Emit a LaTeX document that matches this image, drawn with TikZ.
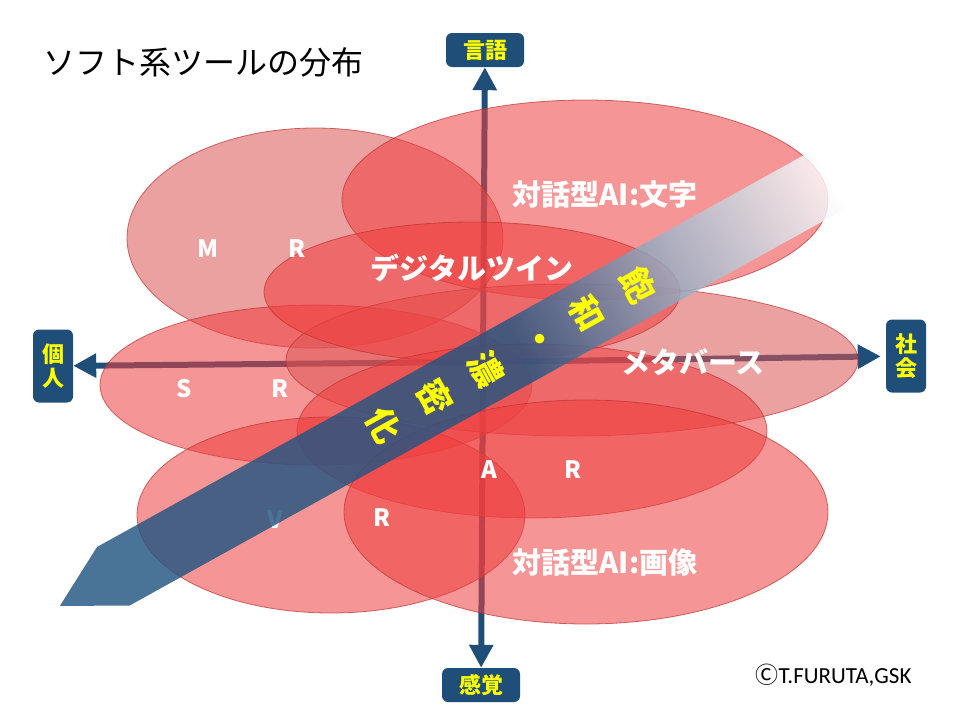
\documentclass[tikz,border=0pt]{standalone}
\usepackage{fontspec}
\setmainfont{Noto Sans CJK JP}
\newfontfamily\calibfont{Carlito}
\usepackage{tikz}
\usetikzlibrary{arrows.meta}
\definecolor{axisnavy}{RGB}{31,78,121}
\definecolor{cloudred}{RGB}{240,62,62}
\definecolor{cloudmute}{RGB}{222,84,84}
\definecolor{cloudedge}{RGB}{190,50,50}
\definecolor{bandblue}{RGB}{35,85,130}
\definecolor{tagyellow}{RGB}{255,255,0}
\colorlet{bandmid}{bandblue!45!white}
\colorlet{bandend}{white}
\pgfdeclarehorizontalshading{bandfade}{100bp}{color(0bp)=(bandblue); color(55bp)=(bandblue);
  color(65bp)=(bandmid); color(75bp)=(bandend); color(100bp)=(bandend)}

\begin{document}
\begin{tikzpicture}[x=1pt, y=-1pt,
    cloud/.style={fill=cloudred, fill opacity=0.55, draw=cloudedge, draw opacity=0.7, line width=0.8pt},
    mutecloud/.style={cloud, fill=cloudmute},
    lbl/.style={text=white, font=\bfseries\fontsize{29}{32}\selectfont},
    letter/.style={text=white, font=\bfseries\fontsize{24}{28}\selectfont},
    axis/.style={draw=axisnavy, line width=6pt, -{Triangle[width=23pt,length=23pt]}},
    htag/.style={fill=axisnavy, rounded corners=6pt, text=tagyellow, inner sep=0pt,
                 font=\bfseries\fontsize{22}{24}\selectfont, minimum width=78pt, minimum height=34pt},
    vtag/.style={htag, minimum width=40pt, minimum height=73pt, align=center},
    bandchar/.style={text=tagyellow, font=\bfseries\fontsize{34}{34}\selectfont, rotate=-90}]

\useasboundingbox (0,0) rectangle (960,720);
\fill[white] (0,0) rectangle (960,720);

%% Title
\node[anchor=west, font=\fontsize{32}{36}\selectfont] (title) at (40,62) {ソフト系ツールの分布};

%% Axis tags: top, bottom, left, right
\node[htag] (lang)  at (485,50)  {言語};
\node[htag] (sense) at (481,685) {感覚};
\node[vtag] (indiv) at (53,366)  {個\\人};
\node[vtag] (soc)   at (906,356) {社\\会};

%% Axes
\coordinate (O) at (483,362);
\draw[axis] (O) -- (lang);
\draw[axis] (O) -- (sense);
\draw[axis] (O) -- (indiv);
\draw[axis, shorten >=5pt] (O) -- (soc);

%% ── Tool areas ───────────────────────────────────────────────────────
\draw[mutecloud] (315,238) ellipse [x radius=188, y radius=110];   % MR
\draw[cloud]     (585,200) ellipse [x radius=243, y radius=100];   % AI text
\draw[cloud]     (316,385) ellipse [x radius=216, y radius=80];    % SR
\draw[mutecloud] (572,360) ellipse [x radius=286, y radius=76];    % metaverse
\draw[cloud]     (472,292) ellipse [x radius=208, y radius=70];    % digital twin
\draw[cloud]     (532,431) ellipse [x radius=235, y radius=87];    % AR
\draw[cloud]     (331,515) ellipse [x radius=194, y radius=98];    % VR
\draw[cloud]     (586,512) ellipse [x radius=242, y radius=112];   % AI image

%% Labels
\node[letter] (mr1) at (208,249) {M};
\node[letter] (mr2) at (297,249) {R};
\node[lbl] (aitext) at (605,195) {対話型AI:文字};
\node[lbl] (twin)   at (472,268) {デジタルツイン};
\node[letter] (sr1) at (184,389) {S};
\node[letter] (sr2) at (280,389) {R};
\node[lbl] (meta)   at (693,362) {メタバース};
\node[letter] (ar1) at (489,470) {A};
\node[letter] (ar2) at (573,470) {R};
\node[letter] (vr1) at (275,520) {V};
\node[letter] (vr2) at (382,518) {R};
\node[lbl] (aiimg)  at (605,562) {対話型AI:画像};

%% ── Diagonal band ────────────────────────────────────────────────────
\begin{scope}[transform canvas={shift={(97,547)}, rotate=29}]
  \shade[shading=bandfade, fill opacity=0.82]
      (0,0) -- (820,0) -- (820,67) -- (0,67) -- (-61,33.5) -- cycle;
  \node[bandchar] (b1) at (600,33) {飽};
  \node[bandchar] (b2) at (542,33) {和};
  \node[bandchar] (b3) at (484,33) {・};
  \node[bandchar] (b4) at (426,33) {濃};
  \node[bandchar] (b5) at (368,33) {密};
  \node[bandchar] (b6) at (310,33) {化};
\end{scope}

%% Credit
\node[anchor=west, font=\fontsize{23}{26}\selectfont] (credit) at (752,675)
    {Ⓒ{\calibfont T.FURUTA,GSK}};

\end{tikzpicture}
\end{document}
